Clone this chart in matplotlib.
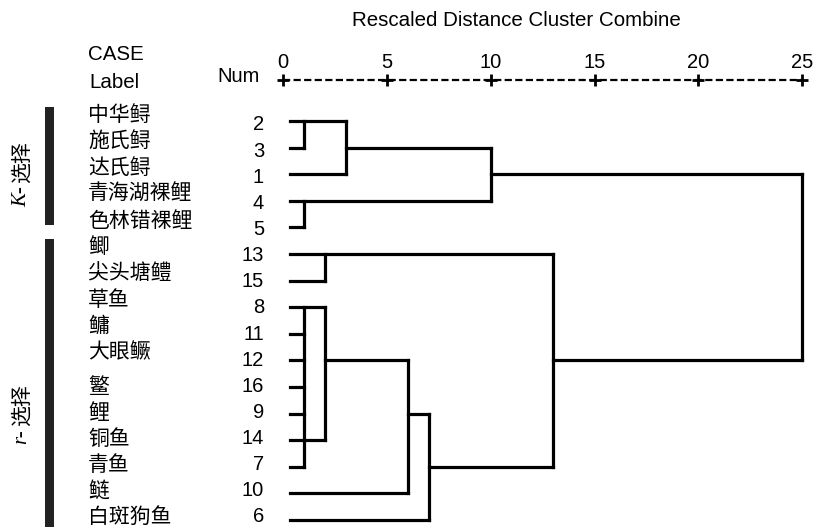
import matplotlib.pyplot as plt

plt.rcParams['font.family'] = ['Liberation Sans', 'Noto Sans CJK SC', 'DejaVu Sans']
plt.rcParams['lines.scale_dashes'] = False

# cases in dendrogram order (top to bottom)
labels = ['中华鲟', '施氏鲟', '达氏鲟', '青海湖裸鲤', '色林错裸鲤', '鲫', '尖头塘鳢', '草鱼',
          '鳙', '大眼鳜', '鳘', '鲤', '铜鱼', '青鱼', '鲢', '白斑狗鱼']
case_nums = [2, 3, 1, 4, 5, 13, 15, 8, 11, 12, 16, 9, 14, 7, 10, 6]

# rescaled distance reached by each leaf line
leaf_start = 0.3
leaf_reach = [3, 1, 3, 10, 1, 13, 2, 2, 1, 1, 1, 1, 1, 1, 6, 7]

# joins: (distance, first row, last row)
joins = [(1, 0, 1), (3, 0, 2), (10, 1, 3), (1, 3, 4), (25, 2, 9),
         (2, 5, 6), (13, 5, 13), (1, 7, 13), (2, 7, 12), (6, 9, 14), (7, 11, 15)]
# links carrying a cluster on to the next join: (row, from distance, to distance)
links = [(1, 3, 10), (2, 10, 25), (9, 13, 25), (12, 1, 2), (9, 2, 6), (11, 6, 7), (13, 7, 13)]

ruler_ticks = [0, 5, 10, 15, 20, 25]

W, H = 813, 527
fig = plt.figure(figsize=(W / 100, H / 100), dpi=100)
ax = fig.add_axes([0, 0, 1, 1])
ax.axis('off')

# pixel layout: distance 0 at x=283, 25 at x=802; first row at y=121, 26.6 px per row
x0, xs = 283.3, 20.75
y0, ys = 121.0, 26.6
ax.set_xlim(-x0 / xs, (W - x0) / xs)
ax.set_ylim((H - y0) / ys, -y0 / ys)

def px_x(px):
    return (px - x0) / xs

def px_y(py):
    return (py - y0) / ys

lw = 2.3
style = dict(color='black', lw=lw, solid_capstyle='projecting')
for row, reach in enumerate(leaf_reach):
    ax.plot([leaf_start, reach], [row, row], **style)
for d, r0, r1 in joins:
    ax.plot([d, d], [r0, r1], **style)
for row, d0, d1 in links:
    ax.plot([d0, d1], [row, row], **style)

# distance ruler
ry = px_y(80)
ax.plot([ruler_ticks[0], ruler_ticks[-1]], [ry, ry], color='black', lw=1.6,
        dashes=(5.2, 2.4))
ax.plot(ruler_ticks, [ry] * len(ruler_ticks), ls='none', marker='+', ms=8,
        mew=2, color='black')
for t in ruler_ticks:
    ax.text(t, px_y(62), str(t), ha='center', va='center', fontsize=14.5)

ax.text(px_x(516), px_y(20), 'Rescaled Distance Cluster Combine', ha='center',
        va='center', fontsize=14.8)
ax.text(px_x(88), px_y(55), 'CASE', ha='left', va='center', fontsize=14.8)
ax.text(px_x(89), px_y(82), 'Label', ha='left', va='center', fontsize=14.8)
ax.text(px_x(217), px_y(76), 'Num', ha='left', va='center', fontsize=14.5)

# case labels and numbers
for row, (name, num) in enumerate(zip(labels, case_nums)):
    ly = 115 + 26.4 * row if row < 10 else 387 + 26 * (row - 10)
    ax.text(px_x(88), px_y(ly), name, ha='left', va='center', fontsize=15,
            family=['Noto Sans CJK SC'])
    ax.text(px_x(264), px_y(125 + 26.13 * row), str(num), ha='right',
            va='center', fontsize=14.5)

# strategy groups
ax.fill_between([px_x(45), px_x(54)], px_y(107), px_y(225), color='#222222', lw=0)
ax.fill_between([px_x(45), px_x(54)], px_y(239), px_y(527), color='#222222', lw=0)
ax.text(px_x(22), px_y(197), 'K-', rotation=90, ha='center', va='center',
        fontsize=15, style='italic', family=['Liberation Serif'])
ax.text(px_x(22), px_y(162), '选择', rotation=90, ha='center', va='center',
        fontsize=15, family=['Noto Sans CJK SC'])
ax.text(px_x(22), px_y(437), 'r-', rotation=90, ha='center', va='center',
        fontsize=15, style='italic', family=['Liberation Serif'])
ax.text(px_x(22), px_y(405), '选择', rotation=90, ha='center', va='center',
        fontsize=15, family=['Noto Sans CJK SC'])

fig.savefig('out.png', dpi=100)
